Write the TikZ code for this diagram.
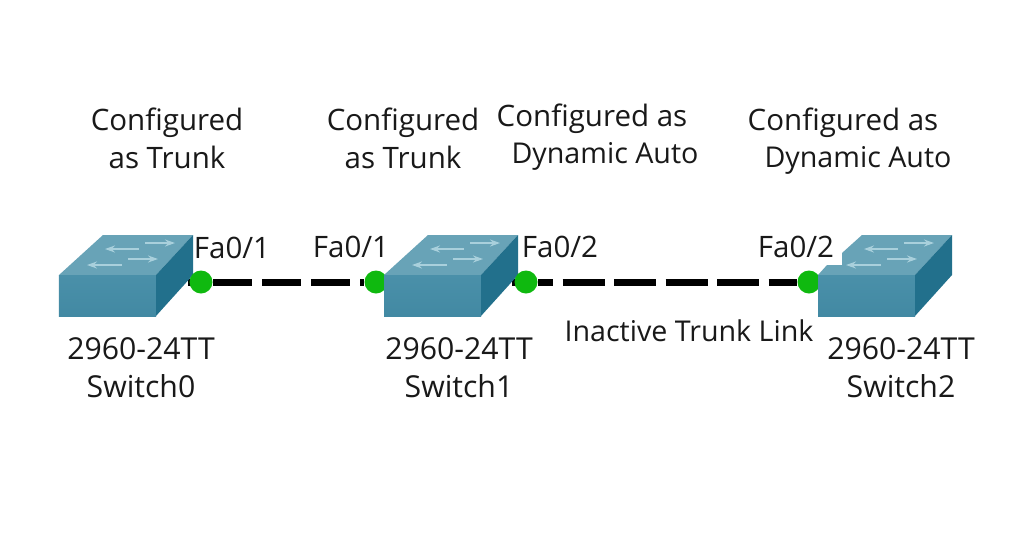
\documentclass[tikz,border=0pt]{standalone}
\usepackage{fontspec}
\setmainfont{Open Sans}
\usetikzlibrary{arrows.meta}
\definecolor{frontcol}{HTML}{4A90A9}
\definecolor{frontlow}{HTML}{4289A3}
\definecolor{sidecol}{HTML}{22708C}
\definecolor{topcol}{HTML}{68A3B7}
\definecolor{arrowcol}{HTML}{A9D0DC}
\definecolor{portcol}{HTML}{0FB90F}
\tikzset{
  lbl/.style={inner sep=0pt, align=center, text=black!90, font=\fontsize{8.4}{10.8}\selectfont},
  lblsmall/.style={lbl, font=\fontsize{8.15}{10.8}\selectfont},
  lblwide/.style={lbl, font=\fontsize{8.6}{10.8}\selectfont},
  port/.style={circle, fill=portcol, inner sep=0pt, minimum size=0.23cm},
  link/.style={black, line width=0.07cm, dash pattern=on 0.39cm off 0.1cm},
  stub/.style={black, line width=0.07cm},
  swarrow/.style={arrowcol, line width=0.02cm, -{Stealth[length=0.1cm,width=0.07cm]}},
  pics/swbody/.style={code={
    \shade[top color=frontcol, bottom color=frontlow] (0,0) rectangle (0.97,0.41);
    \fill[sidecol] (0.97,0) -- (1.34,0.41) -- (1.34,0.81) -- (0.97,0.41) -- cycle;
  }},
  pics/swarrows/.style={code={
    \draw[swarrow] (0.80,0.67) -- (0.46,0.67);
    \draw[swarrow] (0.63,0.51) -- (0.28,0.51);
    \draw[swarrow] (0.86,0.73) -- (1.16,0.73);
    \draw[swarrow] (0.69,0.57) -- (0.99,0.57);
  }},
  pics/swplain/.style={code={
    \fill[topcol] (0,0.41) -- (0.44,0.81) -- (1.34,0.81) -- (0.97,0.41) -- cycle;
    \pic {swbody};
    \pic {swarrows};
  }},
  pics/swnotch/.style={code={
    \fill[topcol] (0,0.41) -- (0.09,0.51) -- (0.24,0.51) -- (0.24,0.63) -- (0.44,0.81) -- (1.34,0.81) -- (0.97,0.41) -- cycle;
    \pic {swbody};
    \pic {swarrows};
  }}
}
\begin{document}
\begin{tikzpicture}
  \useasboundingbox[fill=white] (0,0) rectangle (10.24,5.36);
  % ports hidden in part by the switches
  \node[port] (p1) at (3.76,2.54) {};
  \node[port] (p3) at (8.09,2.54) {};
  % stubs behind the switches
  \coordinate (c0) at (2.01,2.54);
  \coordinate (s0) at (1.88,2.54);
  \coordinate (c2) at (5.26,2.54);
  \coordinate (s2) at (5.12,2.54);
  \draw[stub] (c0) -- (s0);
  \draw[stub] (c2) -- (s2);
  % switches
  \pic at (0.59,2.20) {swplain};
  \pic at (3.84,2.20) {swplain};
  \pic at (8.18,2.20) {swnotch};
  % ports in front
  \node[port] (p0) at (c0) {};
  \node[port] (p2) at (c2) {};
  \draw[link] (p0) -- (p1);
  \draw[link, dash pattern=on 0.42cm off 0.095cm, dash phase=0.27cm] (p2) -- (p3);
  % labels
  \node[lbl] (conf0) at (1.67,3.98) {Configured\\as Trunk};
  \node[lbl] (conf1) at (4.03,3.98) {Configured\\as Trunk};
  \node[lbl] (auto1a) at (5.92,4.17) {Configured as};
  \node[lblsmall] (auto1b) at (6.05,3.80) {Dynamic Auto};
  \node[lbl] (auto2a) at (8.43,4.13) {Configured as};
  \node[lblsmall] (auto2b) at (8.58,3.76) {Dynamic Auto};
  \node[lbl] (fa0) at (2.32,2.88) {Fa0/1};
  \node[lbl] (fa1) at (3.51,2.89) {Fa0/1};
  \node[lbl] (fa2) at (5.60,2.89) {Fa0/2};
  \node[lbl] (fa3) at (7.96,2.89) {Fa0/2};
  \node[lblwide] (sw0) at (1.41,1.68) {2960-24TT\\Switch0};
  \node[lblwide] (sw1) at (4.59,1.68) {2960-24TT\\Switch1};
  \node[lblwide] (sw2) at (9.01,1.68) {2960-24TT\\Switch2};
  \node[lblsmall] (inact) at (6.89,2.05) {Inactive Trunk Link};
\end{tikzpicture}
\end{document}
